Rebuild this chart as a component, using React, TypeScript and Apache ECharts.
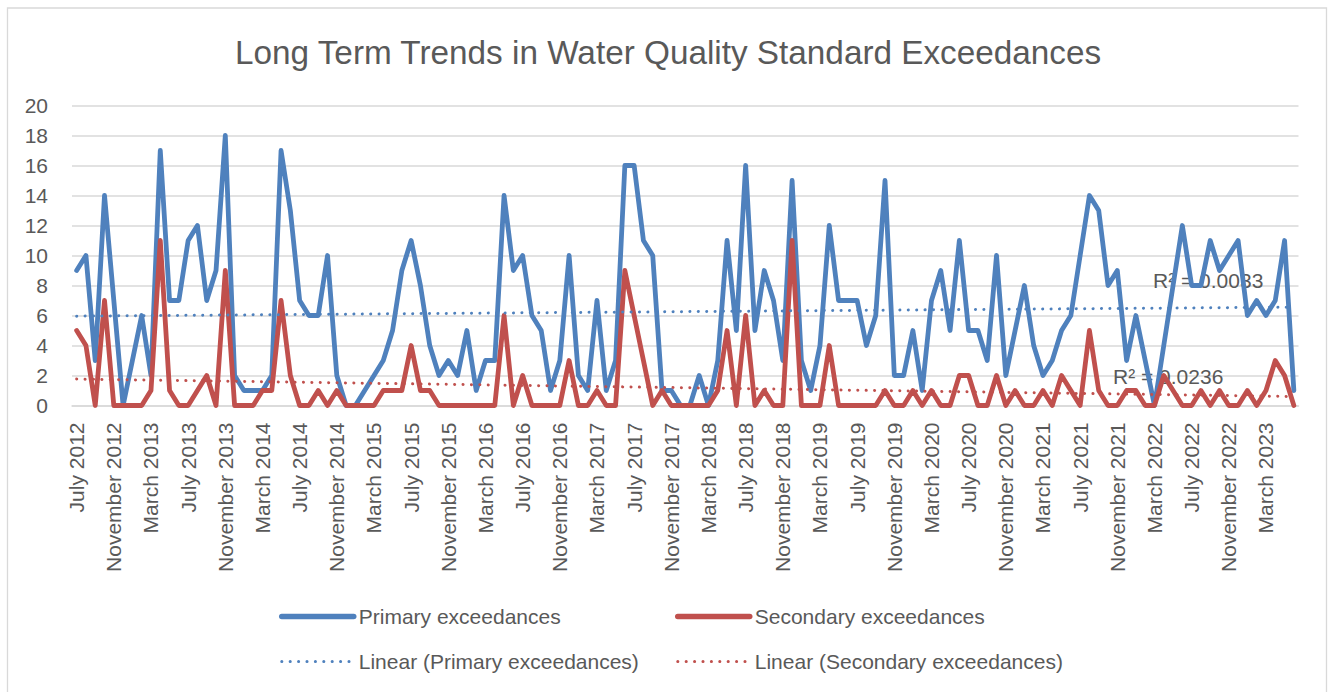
import React, { useEffect, useRef } from "react";
import * as echarts from "echarts";

const MONTH_NAMES = [
  "January", "February", "March", "April", "May", "June",
  "July", "August", "September", "October", "November", "December",
];
const START_YEAR = 2012;
const START_MONTH_INDEX = 6; // July

const PRIMARY = [
  9, 10, 3, 14, 7, 0, 3, 6, 2, 17,
  7, 7, 11, 12, 7, 9, 18, 2, 1, 1,
  1, 2, 17, 13, 7, 6, 6, 10, 2, 0,
  0, 1, 2, 3, 5, 9, 11, 8, 4, 2,
  3, 2, 5, 1, 3, 3, 14, 9, 10, 6,
  5, 1, 3, 10, 2, 1, 7, 1, 3, 16,
  16, 11, 10, 1, 1, 0, 0, 2, 0, 3,
  11, 5, 16, 5, 9, 7, 3, 15, 3, 1,
  4, 12, 7, 7, 7, 4, 6, 15, 2, 2,
  5, 1, 7, 9, 5, 11, 5, 5, 3, 10,
  2, 5, 8, 4, 2, 3, 5, 6, 10, 14,
  13, 8, 9, 3, 6, 3, 0, 4, 8, 12,
  8, 8, 11, 9, 10, 11, 6, 7, 6, 7, 11, 1,
];

const SECONDARY = [
  5, 4, 0, 7, 0, 0, 0, 0, 1, 11,
  1, 0, 0, 1, 2, 0, 9, 0, 0, 0,
  1, 1, 7, 2, 0, 0, 1, 0, 1, 0,
  0, 0, 0, 1, 1, 1, 4, 1, 1, 0,
  0, 0, 0, 0, 0, 0, 6, 0, 2, 0,
  0, 0, 0, 3, 0, 0, 1, 0, 0, 9,
  6, 3, 0, 1, 0, 0, 0, 0, 0, 1,
  5, 0, 6, 0, 1, 0, 0, 11, 0, 0,
  0, 4, 0, 0, 0, 0, 0, 1, 0, 0,
  1, 0, 1, 0, 0, 2, 2, 0, 0, 2,
  0, 1, 0, 0, 1, 0, 2, 1, 0, 5,
  1, 0, 0, 1, 1, 0, 0, 2, 1, 0,
  0, 1, 0, 1, 0, 0, 1, 0, 1, 3, 2, 0,
];

const SERIES_NAMES = [
  "Primary exceedances",
  "Secondary exceedances",
  "Linear (Primary exceedances)",
  "Linear (Secondary exceedances)",
];
const R2_LABELS = ["R² = 0.0033", "R² = 0.0236"];
const TITLE = "Long Term Trends in Water Quality Standard Exceedances";
const Y_MIN = 0;
const Y_MAX = 20;
const Y_INTERVAL = 2;

const BLUE = "#4F81BD";
const RED = "#C0504D";
const TEXT = "#595959";
const GRID = "#D9D9D9";
const FONT = "'Liberation Sans', Arial, sans-serif";

const CATEGORIES = PRIMARY.map((_, i) => {
  const m = START_MONTH_INDEX + i;
  return `${MONTH_NAMES[m % 12]} ${START_YEAR + Math.floor(m / 12)}`;
});

function linearTrend(values: number[]): number[] {
  const n = values.length;
  let sx = 0, sy = 0, sxx = 0, sxy = 0;
  values.forEach((y, i) => {
    const x = i + 1;
    sx += x; sy += y; sxx += x * x; sxy += x * y;
  });
  const b = (n * sxy - sx * sy) / (n * sxx - sx * sx);
  const a = (sy - b * sx) / n;
  return values.map((_, i) => +(a + b * (i + 1)).toFixed(4));
}

export default function App() {
  const ref = useRef<HTMLDivElement>(null);

  useEffect(() => {
    document.body.style.margin = "0";
    if (!ref.current) return;
    const chart = echarts.init(ref.current, undefined, { renderer: "svg" });

    const dotted = { type: [0.1, 8.3] as any, cap: "round" as const, width: 3 };
    const legendSolid = { width: 5.5, cap: "round" as const };
    const legendDotted = { width: 3, type: [0.1, 8.3] as any, cap: "round" as const };

    const legendBase = {
      orient: "vertical",
      top: 606,
      itemWidth: 72,
      itemHeight: 21,
      itemGap: 24,
      padding: 0,
      itemStyle: { opacity: 0, borderWidth: 0 },
      textStyle: { color: TEXT, fontSize: 21, fontFamily: FONT },
    };

    chart.setOption({
      animation: false,
      backgroundColor: "#ffffff",
      title: {
        text: TITLE,
        left: 235,
        top: 35.5,
        padding: 0,
        textStyle: { color: TEXT, fontSize: 33.3, fontWeight: "normal", fontFamily: FONT },
      },
      grid: {
        left: 72,
        right: 30.5,
        top: 105.5,
        bottom: 286.5,
        containLabel: false,
        outerBoundsMode: "none",
      } as any,
      legend: [
        {
          ...legendBase,
          left: 279,
          data: [
            { name: SERIES_NAMES[0], lineStyle: legendSolid },
            { name: SERIES_NAMES[2], lineStyle: legendDotted },
          ],
        },
        {
          ...legendBase,
          left: 675,
          data: [
            { name: SERIES_NAMES[1], lineStyle: legendSolid },
            { name: SERIES_NAMES[3], lineStyle: legendDotted },
          ],
        },
      ],
      xAxis: {
        type: "category",
        data: CATEGORIES,
        boundaryGap: true,
        axisLine: { show: true, lineStyle: { color: GRID, width: 1.5 } },
        axisTick: { show: false },
        axisLabel: {
          interval: 3,
          rotate: 90,
          margin: 17,
          color: TEXT,
          fontSize: 21,
          fontFamily: FONT,
        },
        splitLine: { show: false },
      },
      yAxis: {
        type: "value",
        min: Y_MIN,
        max: Y_MAX,
        interval: Y_INTERVAL,
        axisLine: { show: false },
        axisTick: { show: false },
        axisLabel: { color: TEXT, fontSize: 21, fontFamily: FONT, margin: 24 },
        splitLine: { lineStyle: { color: GRID, width: 1.5 } },
      },
      graphic: [
        {
          type: "rect",
          z: 0,
          silent: true,
          shape: { x: 7.5, y: 8, width: 1319, height: 720 },
          style: { fill: "none", stroke: GRID, lineWidth: 1.3 },
        },
        {
          type: "text",
          z: 1,
          x: 1153,
          y: 280,
          style: {
            text: R2_LABELS[0],
            fill: TEXT,
            fontSize: 21,
            fontFamily: FONT,
            verticalAlign: "middle",
          },
        },
        {
          type: "text",
          z: 1,
          x: 1113,
          y: 376,
          style: {
            text: R2_LABELS[1],
            fill: TEXT,
            fontSize: 21,
            fontFamily: FONT,
            verticalAlign: "middle",
          },
        },
      ],
      series: [
        {
          name: SERIES_NAMES[0],
          type: "line",
          data: PRIMARY,
          symbol: "none",
          showSymbol: false,
          color: BLUE,
          lineStyle: { color: BLUE, width: 4.8, join: "round", cap: "round" },
          z: 2,
        },
        {
          name: SERIES_NAMES[1],
          type: "line",
          data: SECONDARY,
          symbol: "none",
          showSymbol: false,
          color: RED,
          lineStyle: { color: RED, width: 4.8, join: "round", cap: "round" },
          z: 3,
        },
        {
          name: SERIES_NAMES[2],
          type: "line",
          data: linearTrend(PRIMARY),
          symbol: "none",
          showSymbol: false,
          color: BLUE,
          lineStyle: { color: BLUE, ...dotted },
          z: 4,
        },
        {
          name: SERIES_NAMES[3],
          type: "line",
          data: linearTrend(SECONDARY),
          symbol: "none",
          showSymbol: false,
          color: RED,
          lineStyle: { color: RED, ...dotted },
          z: 4,
        },
      ],
    });

    return () => chart.dispose();
  }, []);

  return <div ref={ref} style={{ width: 1329, height: 692 }} />;
}
